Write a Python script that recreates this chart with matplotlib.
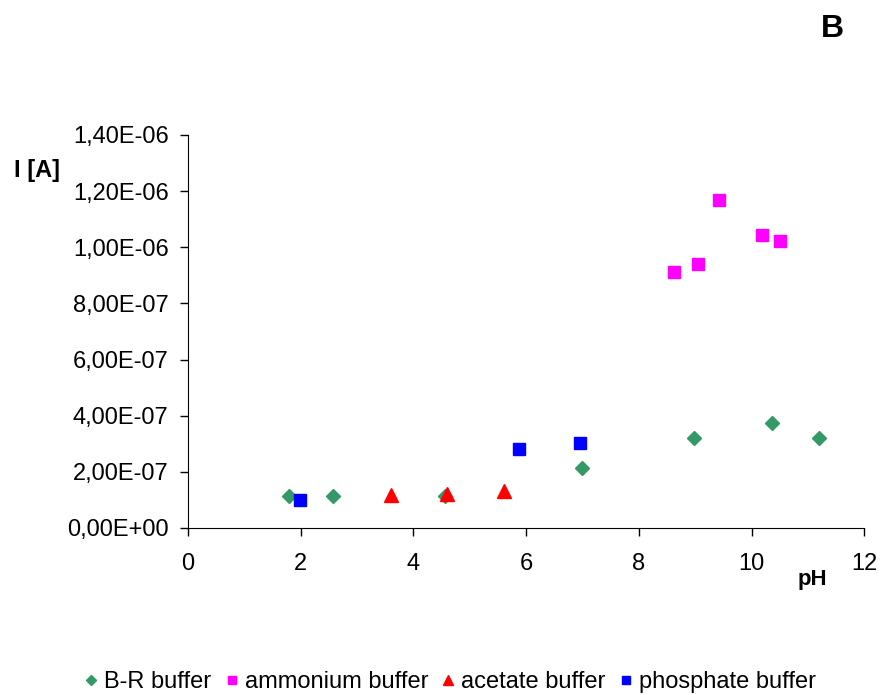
import numpy as np
import matplotlib.pyplot as plt

plt.rcParams['font.family'] = ['Liberation Sans', 'DejaVu Sans']

# B-R buffer
br_ph = [1.80, 2.57, 4.56, 7.00, 8.97, 10.37, 11.20]
br_i = [1.15e-7, 1.15e-7, 1.15e-7, 2.13e-7, 3.19e-7, 3.75e-7, 3.19e-7]
# ammonium buffer
amm_ph = [8.62, 9.05, 9.42, 10.18, 10.51]
amm_i = [9.11e-7, 9.39e-7, 1.17e-6, 1.044e-6, 1.024e-6]
# acetate buffer
ac_ph = [3.60, 4.60, 5.60]
ac_i = [1.17e-7, 1.22e-7, 1.30e-7]
# phosphate buffer
ph_ph = [1.99, 5.88, 6.95]
ph_i = [1.00e-7, 2.81e-7, 3.03e-7]

fig = plt.figure(figsize=(8.81, 6.95), dpi=100)
ax = fig.add_axes([0.2134, 0.2403, 0.7676, 0.5655])

ax.plot(br_ph, br_i, 'D', color='#339966', ms=7.5, mec='#339966', label='B-R buffer')
ax.plot(amm_ph, amm_i, 's', color='#ff00ff', ms=8, label='ammonium buffer')
ax.plot(ac_ph, ac_i, '^', color='#ff0000', ms=9.5, label='acetate buffer')
ax.plot(ph_ph, ph_i, 's', color='#0000ff', ms=8, label='phosphate buffer')

ax.set_xlim(0, 12)
ax.set_ylim(0, 1.4e-6)
ax.set_xticks(np.arange(0, 13, 2))
yt = np.arange(0, 1.41e-6, 2e-7)
ax.set_yticks(yt)
ax.set_yticklabels([('%.2E' % v).replace('.', ',') for v in yt])
ax.spines['top'].set_visible(False)
ax.spines['right'].set_visible(False)
ax.tick_params(direction='out', length=6, labelsize=17, width=1)
ax.tick_params(axis='y', pad=8)
ax.tick_params(axis='x', pad=12)

fig.text(0.016, 0.745, 'I [A]', fontsize=17, fontweight='bold')
fig.text(0.905, 0.158, 'pH', fontsize=16, fontweight='bold')
fig.text(0.932, 0.947, 'B', fontsize=23, fontweight='bold')

fig.legend(loc='lower center', bbox_to_anchor=(0.508, -0.028), ncol=4, frameon=False,
           fontsize=17, handletextpad=0.05, columnspacing=0.35, markerscale=0.7,
           handlelength=1.0)

fig.savefig('out.png', dpi=100)
